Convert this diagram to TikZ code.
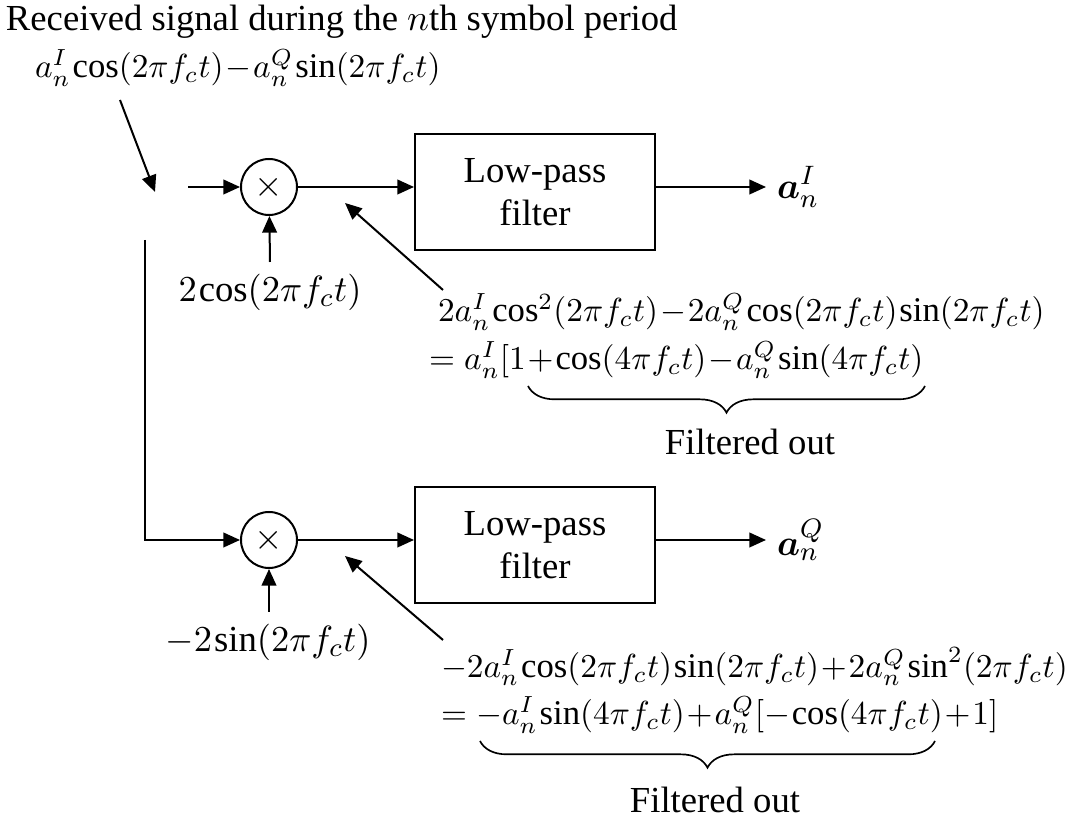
\documentclass[tikz,border=0pt]{standalone}
\usepackage{amsmath,amssymb}
\usepackage{fontspec}
\setmainfont{Liberation Serif}
\usetikzlibrary{arrows.meta,positioning,decorations.pathreplacing}
\medmuskip=1mu
\thinmuskip=1mu

\begin{document}
\begin{tikzpicture}[x=0.3pt,y=-0.3pt,>={Triangle[length=5pt,width=4.4pt]},line width=0.6pt,
  every node/.style={font=\fontsize{11}{13}\selectfont},
  mult/.style={draw,circle,minimum size=16.8pt,inner sep=0pt},
  lpf/.style={draw,minimum width=72pt,minimum height=35pt,align=center,inner sep=0pt},
  lbl/.style={inner sep=0pt},
  expr/.style={inner sep=0pt,anchor=west,font=\fontsize{10.4}{12}\selectfont},
  outlbl/.style={inner sep=3pt,anchor=west}]
  \useasboundingbox (0,0) rectangle (1085,829);
  % received signal
  \node[lbl,anchor=west] (title) at (5,22) {Received signal during the $n$th symbol period};
  \node[expr] (rx) at (34,68) {$a_n^I\cos(2\pi f_ct)-a_n^Q\sin(2\pi f_ct)$};
  \coordinate (rxend) at (155,192);
  \coordinate (rxstart) at (188,187);
  \coordinate (split) at (145,240);
  \draw[->] (120,100) -- (rxend);
  % in-phase branch
  \node[mult] (mult1) at (269,187) {$\times$};
  \node[lpf] (lpf1) at (535,192) {Low-pass\\filter};
  \node[outlbl] (outI) at (766,187) {$\boldsymbol{a}_n^I$};
  \node[lbl] (cosin) at (270,292) {$2\cos(2\pi f_ct)$};
  \draw[->] (rxstart) -- (mult1);
  \draw[->] (cosin.north |- 0,262) -- (mult1);
  \draw[->] (mult1.east) -- (mult1.east -| lpf1.west);
  \draw[->] (lpf1.east |- mult1) -- (outI);
  \coordinate (tipI) at (345,203);
  \draw[->] (443,290) -- (tipI);
  \node[expr] (exI) at (437,312) {$2a_n^I\cos^2(2\pi f_ct)-2a_n^Q\cos(2\pi f_ct)\sin(2\pi f_ct)$};
  \node[expr] (exIb) at (428,360) {$=a_n^I[1+\cos(4\pi f_ct)-a_n^Q\sin(4\pi f_ct)$};
  \draw[decorate,decoration={brace,mirror,amplitude=8pt},line width=0.5pt] (528,386) -- (925,386);
  \node[lbl] (filtI) at (750,442) {Filtered out};
  % quadrature branch
  \node[mult] (mult2) at (269,540) {$\times$};
  \node[lpf] (lpf2) at (535,545) {Low-pass\\filter};
  \node[outlbl] (outQ) at (766,540) {$\boldsymbol{a}_n^Q$};
  \node[lbl] (sinin) at (268,642) {$-2\sin(2\pi f_ct)$};
  \draw[->] (split) |- (mult2);
  \draw[->] (mult2.south |- 0,612) -- (mult2);
  \draw[->] (mult2.east) -- (mult2.east -| lpf2.west);
  \draw[->] (lpf2.east |- mult2) -- (outQ);
  \coordinate (tipQ) at (345,556);
  \draw[->] (443,640) -- (tipQ);
  \node[expr] (exQ) at (440,667) {$-2a_n^I\cos(2\pi f_ct)\sin(2\pi f_ct)+2a_n^Q\sin^2(2\pi f_ct)$};
  \node[expr] (exQb) at (440,715) {$=-a_n^I\sin(4\pi f_ct)+a_n^Q[-\cos(4\pi f_ct)+1]$};
  \draw[decorate,decoration={brace,mirror,amplitude=8pt},line width=0.5pt] (480,741) -- (935,741);
  \node[lbl] (filtQ) at (715,800) {Filtered out};
\end{tikzpicture}
\end{document}
